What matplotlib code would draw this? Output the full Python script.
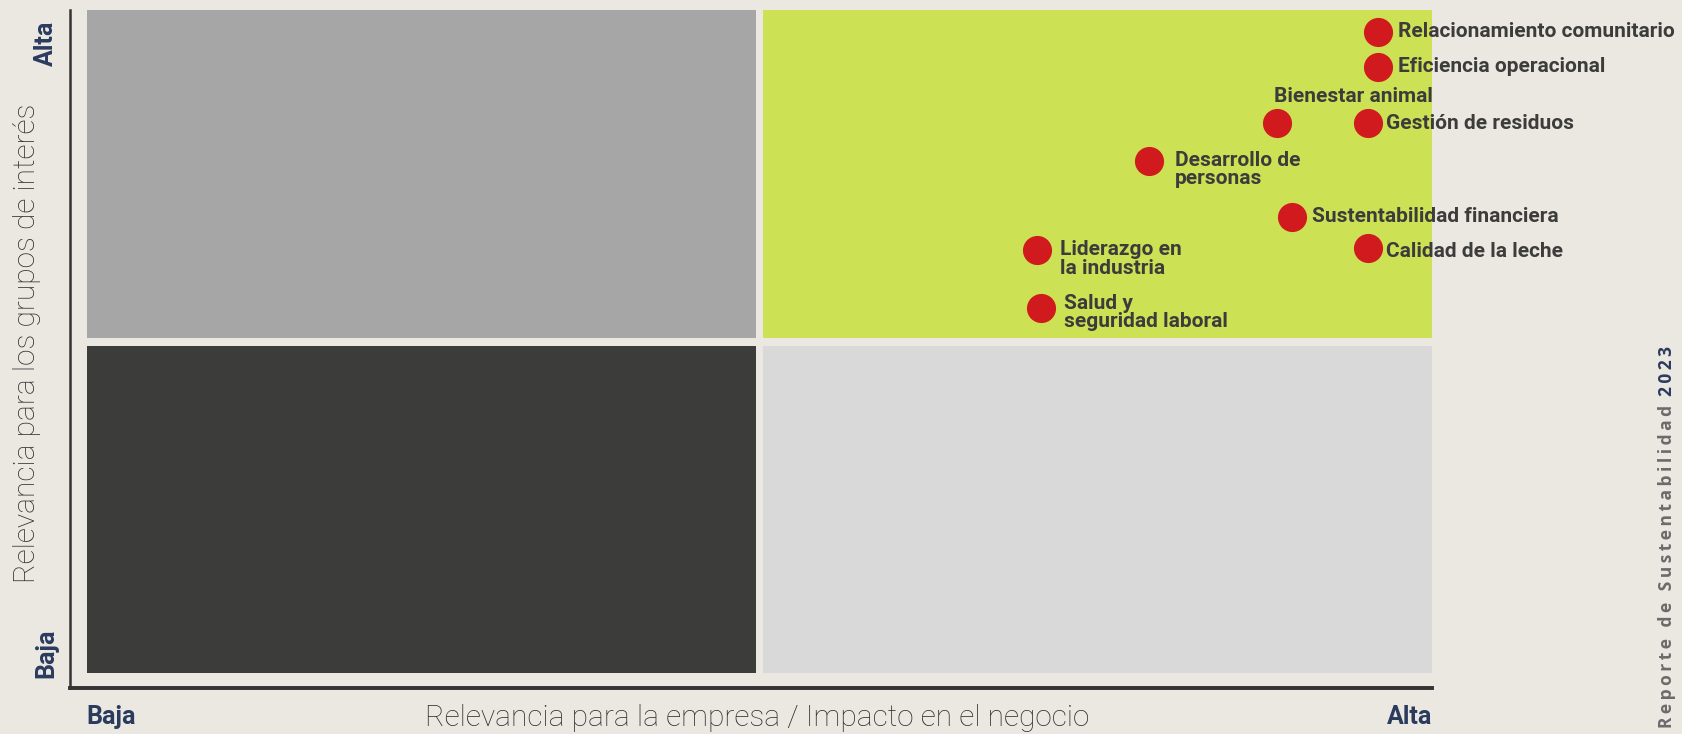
import matplotlib.pyplot as plt
from matplotlib.patches import Rectangle

# materiality matrix data (0-100 scale on both axes)
temas = ["Relacionamiento comunitario", "Eficiencia operacional", "Bienestar animal",
         "Gestión de residuos", "Desarrollo de\npersonas", "Sustentabilidad financiera",
         "Calidad de la leche", "Liderazgo en\nla industria", "Salud y\nseguridad laboral"]
impacto_empresa = [96.0, 96.0, 88.6, 95.3, 79.2, 89.7, 95.3, 71.0, 71.3]
relevancia_grupos = [96.8, 91.6, 83.3, 83.3, 77.7, 69.5, 64.9, 64.6, 56.0]

# label offsets in pixels (dx, dy) and alignment
label_pos = [(20, 0, "left"), (20, 0, "left"), (156, 27, "right"),
             (18, 0, "left"), (26, -8, "left"), (20, 0, "left"),
             (18, -4, "left"), (23, -9, "left"), (23, -4, "left")]

W, H = 1683, 734
BG = "#ebe8e2"
TXT = "#3c3c3b"
NAVY = "#2b3b5e"

fig = plt.figure(figsize=(W / 100, H / 100), dpi=100, facecolor=BG)
ax = fig.add_axes([70 / W, (H - 688) / H, (1432 - 70) / W, (688 - 10) / H])
ax.set_facecolor(BG)
ax.set_xlim(0, 100)
ax.set_ylim(0, 100)

# quadrants
quads = [((1.25, 51.6), 49.1, 48.4, "#a6a6a6"),
         ((50.9, 51.6), 49.1, 48.4, "#cde155"),
         ((1.25, 2.2), 49.1, 48.2, "#3c3c3b"),
         ((50.9, 2.2), 49.1, 48.2, "#d9d9d9")]
for xy, w, h, c in quads:
    ax.add_patch(Rectangle(xy, w, h, facecolor=c, edgecolor="none", zorder=1))

ax.scatter(impacto_empresa, relevancia_grupos, s=440, color="#d01a1d", zorder=3, linewidths=0)

for t, x, y, (dx, dy, ha) in zip(temas, impacto_empresa, relevancia_grupos, label_pos):
    ax.annotate(t, (x, y), xytext=(dx, dy), textcoords="offset pixels",
                ha=ha, va="center", fontsize=15, fontweight="bold", family="Roboto",
                color=TXT, linespacing=0.95, zorder=4, annotation_clip=False)

for s in ["top", "right"]:
    ax.spines[s].set_visible(False)
ax.spines["left"].set_color("#333333")
ax.spines["left"].set_linewidth(1.8)
ax.spines["bottom"].set_color("#333333")
ax.spines["bottom"].set_linewidth(2.8)
ax.set_xticks([])
ax.set_yticks([])

# axis titles
fig.text(27 / W, 1 - 343 / H, "Relevancia para los grupos de interés", rotation=90,
         ha="center", va="center", fontsize=21.5, family="Roboto", fontweight="light", color="#2e2e2e")
fig.text(757 / W, 1 - 718 / H, "Relevancia para la empresa / Impacto en el negocio",
         ha="center", va="center", fontsize=21.5, family="Roboto", fontweight="light", color="#2e2e2e")

fig.text(46 / W, 1 - 43 / H, "Alta", rotation=90, ha="center", va="center",
         fontsize=18, fontweight="bold", family="Roboto", color=NAVY)
fig.text(46 / W, 1 - 653 / H, "Baja", rotation=90, ha="center", va="center",
         fontsize=18, fontweight="bold", family="Roboto", color=NAVY)
fig.text(111 / W, 1 - 717 / H, "Baja", ha="center", va="center",
         fontsize=18, fontweight="bold", family="Roboto", color=NAVY)
fig.text(1432 / W, 1 - 717 / H, "Alta", ha="right", va="center",
         fontsize=18, fontweight="bold", family="Roboto", color=NAVY)

# side caption, letter-spaced
sp = "\u2009"
rep = fig.text(1667 / W, 1 - 728 / H, sp.join("Reporte de Sustentabilidad"), rotation=90,
               ha="center", va="bottom", fontsize=12.5, fontweight="bold",
               family=["Open Sans", "DejaVu Sans"], color="#6b6b6b")
fig.canvas.draw()
bb = rep.get_window_extent()
fig.text(1667 / W, (bb.y1 + 9) / H, sp.join("2023"), rotation=90,
         ha="center", va="bottom", fontsize=12.5, fontweight="bold",
         family=["Open Sans", "DejaVu Sans"], color=NAVY)

fig.savefig("out.png", dpi=100, facecolor=BG)
